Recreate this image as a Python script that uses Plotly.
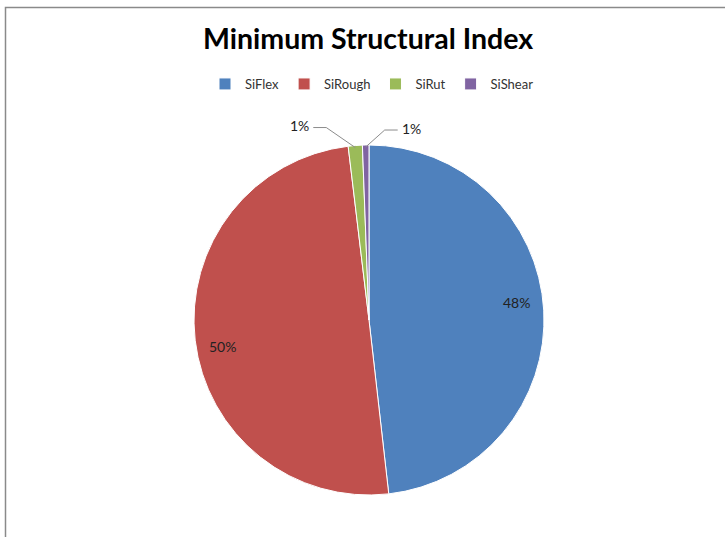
import math
import plotly.graph_objects as go

labels = ["SiFlex", "SiRough", "SiRut", "SiShear"]
values = [48.2, 49.9, 1.3, 0.6]
colors = ["#4F81BD", "#C0504D", "#9BBB59", "#8064A2"]
label_side = [0, 0, -1, 1]  # 0 = inside label, -1/1 = outside label to the left/right
title_text = "Minimum Structural Index"

W, H = 725, 537
cx, cy, R = 369, 320, 175  # pixel geometry of the pie

fig = go.Figure()
fig.add_trace(go.Pie(
    labels=labels, values=values, sort=False, direction="clockwise", rotation=0,
    marker=dict(colors=colors, line=dict(color="white", width=1)),
    textinfo="none", hoverinfo="label+percent",
    domain=dict(x=[(cx - R) / W, (cx + R) / W], y=[1 - (cy + R) / H, 1 - (cy - R) / H]),
    showlegend=True,
))

total = sum(values)
annotations = []
shapes = []
cum = 0.0
FAM = "Lato, Liberation Sans, sans-serif"
font = dict(family=FAM, size=14, color="#222")

def to_paper(px, py):
    return px / W, 1 - py / H

for i, v in enumerate(values):
    mid = (cum + v / 2) / total * 2 * math.pi  # clockwise from 12 o'clock
    cum += v
    pct = f"{round(v / total * 100)}%"
    side = label_side[i]
    if side == 0:
        a = mid - math.radians(3.5)
        r = 0.85 * R
        px = cx + r * math.sin(a)
        py = cy - r * math.cos(a)
        x, y = to_paper(px, py)
        annotations.append(dict(x=x, y=y, xref="paper", yref="paper", text=pct,
                                xanchor="center", yanchor="middle",
                                showarrow=False, font=font))
    else:
        ex = cx + R * math.sin(mid)
        ey = cy - R * math.cos(mid) + 2
        kx = ex + side * (29 if side < 0 else 19)
        ky = ey - (20 if side < 0 else 17)
        hx = kx + side * 13
        p = [to_paper(ex, ey), to_paper(kx, ky), to_paper(hx, ky)]
        shapes.append(dict(type="path", xref="paper", yref="paper",
                           path=f"M {p[0][0]},{p[0][1]} L {p[1][0]},{p[1][1]} L {p[2][0]},{p[2][1]}",
                           line=dict(color="#8c8c8c", width=1)))
        tx, ty = to_paper(hx + side * 2, ky - 2)
        annotations.append(dict(x=tx, y=ty, xref="paper", yref="paper", text=pct,
                                showarrow=False, font=font,
                                xanchor="left" if side > 0 else "right", yanchor="middle"))

# chart border
shapes.append(dict(type="rect", xref="paper", yref="paper",
                   x0=5.5 / W, x1=1.02, y0=-0.02, y1=1 - 7.5 / H,
                   line=dict(color="#8a8a8a", width=1.5), fillcolor="rgba(0,0,0,0)", layer="below"))

fig.update_layout(
    width=W, height=H,
    margin=dict(l=0, r=0, t=0, b=0),
    paper_bgcolor="white", plot_bgcolor="white",
    title=dict(text=f"<b>{title_text}</b>", x=368 / W, xanchor="center",
               y=1 - 39 / H, yanchor="middle",
               font=dict(family=FAM, size=28.5, color="#000")),
    legend=dict(orientation="h", x=372 / W, xanchor="center", y=1 - 84 / H, yanchor="middle",
                font=dict(family=FAM, size=13, color="#333"),
                itemwidth=30, tracegroupgap=0),
    annotations=annotations,
    shapes=shapes,
)

fig.write_html("out.html")
